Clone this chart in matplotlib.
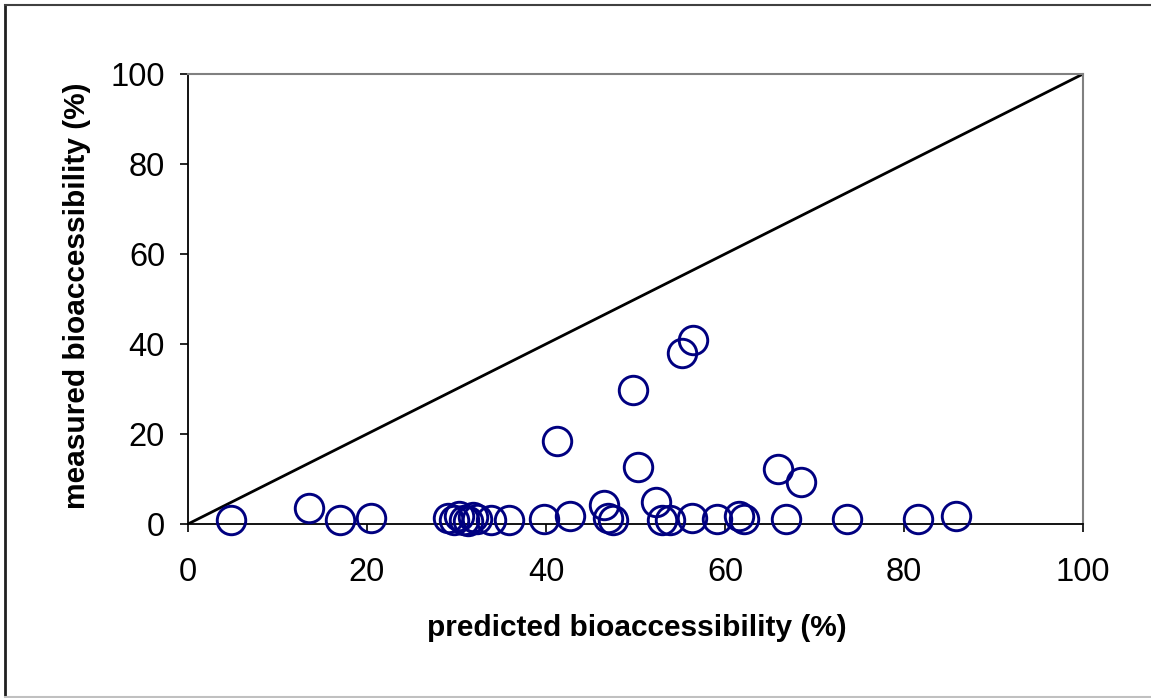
import matplotlib
matplotlib.use("Agg")
import matplotlib.pyplot as plt
from matplotlib.lines import Line2D

plt.rcParams['font.family'] = ['Liberation Sans', 'DejaVu Sans']

predicted = [4.8, 13.5, 17.0, 20.4, 29.0, 29.7, 30.3, 30.8, 31.3, 31.8, 32.3, 33.8,
             35.9, 39.8, 41.2, 42.7, 46.5, 46.9, 47.5, 49.7, 50.3, 52.3, 53.0, 53.9,
             55.2, 56.4, 56.3, 59.1, 61.6, 62.1, 65.9, 66.8, 68.5, 73.6, 81.6, 85.8]
measured = [0.8, 3.6, 0.8, 1.4, 1.3, 0.8, 1.8, 1.0, 0.7, 1.5, 1.2, 0.9,
            0.8, 1.2, 18.4, 1.7, 4.3, 1.4, 0.8, 29.7, 12.7, 4.8, 0.8, 0.8,
            38.0, 40.9, 1.3, 1.2, 1.8, 1.2, 12.2, 1.2, 9.3, 1.2, 1.2, 1.8]
line_x = [0, 100]
line_y = [0, 100]
ticks = [0, 20, 40, 60, 80, 100]

fig = plt.figure(figsize=(11.51, 6.98), dpi=100)
ax = fig.add_axes([188/1151, 1-524/698, (1083-188)/1151, (524-74)/698])

ax.plot(line_x, line_y, color='black', lw=2.0, zorder=2)
ax.plot(predicted, measured, linestyle='none', marker='o', markersize=20.5,
        markerfacecolor='none', markeredgecolor='#000080', markeredgewidth=2.1,
        zorder=3, clip_on=False)

ax.set_xlim(0, 100)
ax.set_ylim(0, 100)
ax.set_xticks(ticks)
ax.set_yticks(ticks)
ax.tick_params(axis='both', direction='out', length=6, width=1.2, labelsize=23.5,
               color='black')
ax.tick_params(axis='x', pad=18)
ax.tick_params(axis='y', pad=10.5)

for s in ['left', 'bottom']:
    ax.spines[s].set_color('black')
    ax.spines[s].set_linewidth(1.3)
for s in ['top', 'right']:
    ax.spines[s].set_color('#808080')
    ax.spines[s].set_linewidth(1.5)

fig.text(637/1151, 1-628/698, 'predicted bioaccessibility (%)', ha='center', va='center',
         fontsize=21.5, fontweight='bold')
fig.text(77/1151, 1-296/698, 'measured bioaccessibility (%)', ha='center', va='center',
         fontsize=21.5, fontweight='bold', rotation=90)

# figure border
fig.add_artist(Line2D([5/1151, 5/1151], [1-5/698, 0], transform=fig.transFigure,
                      color='#202020', lw=2))
fig.add_artist(Line2D([5/1151, 1], [1-5/698, 1-5/698], transform=fig.transFigure,
                      color='#404040', lw=1.5))
fig.add_artist(Line2D([5/1151, 1], [1-697/698, 1-697/698], transform=fig.transFigure,
                      color='#c0c0c0', lw=1.5))

fig.savefig('out.png', dpi=100)
